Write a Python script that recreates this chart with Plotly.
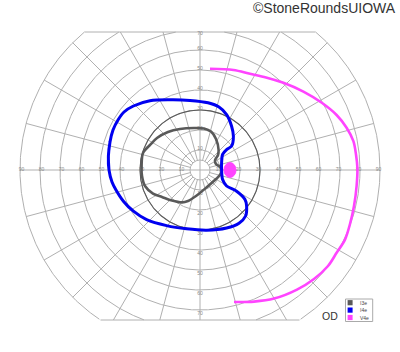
import numpy as np
import plotly.graph_objects as go

# ---------------- data (degrees of visual field) ----------------
i3e_x = [-28.5, -25, -21.5, -16, -10, -3, 2, 5.5, 8, 9.3, 9, 7.5, 8, 10, 11, 10, 8, 3.5,
         -2, -6, -9, -14, -19, -23.5, -27.5, -29, -29.2, -28.5]
i3e_y = [8.5, 12.5, 16, 19, 20.5, 21, 20.8, 19.2, 15.5, 10, 7.5, 4.8, 3, 1.5, 0, -2.5, -4.5, -8.5,
         -13, -15.5, -16.2, -15.3, -13.5, -11.8, -8, -3, 2, 8.5]

i4e_x = [-45.8, -45.5, -44, -42, -38.3, -33.3,
         -26.7, -16.7, -6.7, 3.3, 13.3, 19.5, 22.8, 23.3, 22.5, 18.3, 13.3, 11.3, 10.8, 10.8,
         11.3, 13.3, 15.8, 16.7, 15.8, 13.3, 9.5, 4, -5, -15, -25, -33.3, -38, -41, -43.5, -45,
         -45.8]
i4e_y = [7, 0, -6, -10, -15.6, -20.6,
         -24.8, -27.8, -29.4, -30.1, -29, -26.6, -23, -18, -14.8, -10.6, -8, -4.8, 0, 3.6,
         7.8, 10.2, 12, 16.9, 21.9, 27.7, 31.5, 33.6, 34.8, 35.1, 34.6, 32, 29, 25, 20, 14,
         7]

v4e_x = [5, 16.7, 25, 33, 41.7, 51.7, 60.9, 68.3, 73.3, 76.7, 78, 78.7, 78.3, 77, 75, 72.5,
         68.3, 64, 57, 48.5, 37, 27, 17]
v4e_y = [50.6, 50, 48.1, 46.3, 43.6, 39.2, 33.6, 27.5, 21.1, 14.4, 7.75, 1, -8, -18, -27, -34.8,
         -41.4, -48, -54.5, -59.8, -64.3, -65.8, -66]

blind_spot_center = (15.0, 0.0)
blind_spot_radius = (3.0, 3.7)

circle_radii = [5, 10, 20, 30, 40, 50, 60, 70, 80, 90]
meridians = list(range(0, 360, 15))
h_tick_values = [10, 20, 30, 40, 50, 60, 70, 80, 90]
v_tick_values = [10, 20, 30, 40, 50, 60, 70]

legend_names = ["I3e", "I4e", "V4e"]
colors = {"I3e": "#595959", "I4e": "#0000f0", "V4e": "#ff44ff"}

# ---------------- geometry ----------------
W, H = 400, 352
ML, MR, MT, MB = 18, 18, 31, 31
XR = [-91, 91]
YR = [-75.5, 69.5]
YTOP, YBOT = 69.0, -75.0
GRID = "#b0b0b0"


def px2paper(px, py):
    return (px - ML) / (W - ML - MR), (H - MB - py) / (H - MT - MB)


def wrap(xs, ys):
    # closed loop: continue past the start so the spline has no kink at the seam
    return [xs[-2]] + list(xs) + [xs[1]], [ys[-2]] + list(ys) + [ys[1]]


gx, gy = [], []
for r in circle_radii:
    t = np.linspace(0, 2 * np.pi, 721)
    cx, cy = r * np.cos(t), r * np.sin(t)
    inside = (cy <= YTOP) & (cy >= YBOT)
    seg_x, seg_y = [], []
    for a, b, ok in zip(cx, cy, inside):
        if ok:
            seg_x.append(a); seg_y.append(b)
        elif seg_x:
            gx += seg_x + [None]; gy += seg_y + [None]
            seg_x, seg_y = [], []
    if seg_x:
        gx += seg_x + [None]; gy += seg_y + [None]
for yc in (YTOP, YBOT):
    half = np.sqrt(90 ** 2 - yc ** 2)
    gx += [-half, half, None]; gy += [yc, yc, None]
for ang in meridians:
    th = np.radians(ang)
    s, c = np.sin(th), np.cos(th)
    r_end = 90.0
    if s > 1e-9:
        r_end = min(r_end, YTOP / s)
    elif s < -1e-9:
        r_end = min(r_end, YBOT / s)
    r0 = 0 if ang % 90 == 0 else 5
    gx += [r0 * c, r_end * c, None]; gy += [r0 * s, r_end * s, None]

fig = go.Figure()
fig.add_trace(go.Scatter(x=gx, y=gy, mode="lines", line=dict(color=GRID, width=1),
                         hoverinfo="skip", showlegend=False))
t = np.linspace(0, 2 * np.pi, 361)
fig.add_trace(go.Scatter(x=30 * np.cos(t), y=30 * np.sin(t), mode="lines",
                         line=dict(color="#5a5a5a", width=1.1), hoverinfo="skip", showlegend=False))

lab_x, lab_y, lab_t = [], [], []
for r in h_tick_values:
    for sgn in (-1, 1):
        lab_x.append(sgn * (r - 0.75)); lab_y.append(0.2); lab_t.append(str(r))
for r in v_tick_values:
    lab_x.append(0); lab_y.append(r + 0.5 if r < 70 else 67.9); lab_t.append(str(r))
    lab_x.append(0); lab_y.append(-(r + 1.75)); lab_t.append(str(r))
fig.add_trace(go.Scatter(x=lab_x, y=lab_y, text=lab_t, mode="text",
                         textfont=dict(size=5, color="#8a8a8a", family="Liberation Sans"),
                         cliponaxis=False, hoverinfo="skip", showlegend=False))

x3, y3 = wrap(i3e_x, i3e_y)
fig.add_trace(go.Scatter(x=x3, y=y3, mode="lines", name="I3e",
                         line=dict(color=colors["I3e"], width=2.6, shape="spline", smoothing=0.9),
                         showlegend=False))
x4, y4 = wrap(i4e_x, i4e_y)
fig.add_trace(go.Scatter(x=x4, y=y4, mode="lines", name="I4e",
                         line=dict(color=colors["I4e"], width=3, shape="spline", smoothing=0.9),
                         showlegend=False))
fig.add_trace(go.Scatter(x=v4e_x, y=v4e_y, mode="lines", name="V4e",
                         line=dict(color=colors["V4e"], width=2.6, shape="spline", smoothing=0.9),
                         showlegend=False))

shapes = []
cxb, cyb = blind_spot_center
rxb, ryb = blind_spot_radius
shapes.append(dict(type="circle", xref="x", yref="y", x0=cxb - rxb, x1=cxb + rxb,
                   y0=cyb - ryb, y1=cyb + ryb, fillcolor=colors["V4e"],
                   line=dict(color=colors["V4e"], width=1), layer="above"))

bx0, by0 = px2paper(345.5, 321.5)
bx1, by1 = px2paper(372.7, 299)
shapes.append(dict(type="rect", xref="paper", yref="paper", x0=bx0, y0=by0, x1=bx1, y1=by1,
                   line=dict(color="#aaaaaa", width=1), fillcolor="white"))
annotations = []
for i, name in enumerate(legend_names):
    cy_px = 302.7 + i * 7.4
    sx0, sy0 = px2paper(347.6, cy_px + 2.6)
    sx1, sy1 = px2paper(352.6, cy_px - 2.6)
    shapes.append(dict(type="rect", xref="paper", yref="paper", x0=sx0, y0=sy0, x1=sx1, y1=sy1,
                       fillcolor=colors[name], line=dict(width=0)))
    tx, ty = px2paper(358, cy_px)
    annotations.append(dict(x=tx, y=ty, xref="paper", yref="paper", text=name, showarrow=False,
                            xanchor="left", yanchor="middle",
                            font=dict(size=5, color="#444444", family="Liberation Sans")))

ox, oy = px2paper(329.5, 316)
annotations.append(dict(x=ox, y=oy, xref="paper", yref="paper", text="OD", showarrow=False,
                        xanchor="center", yanchor="middle",
                        font=dict(size=10.5, color="#333333", family="Liberation Sans")))
tx, ty = px2paper(398, 8.5)
annotations.append(dict(x=tx, y=ty, xref="paper", yref="paper", text="©StoneRoundsUIOWA",
                        showarrow=False, xanchor="right", yanchor="middle",
                        font=dict(size=14, color="#333333", family="Liberation Sans")))

fig.update_layout(
    width=W, height=H, margin=dict(l=ML, r=MR, t=MT, b=MB, pad=0),
    paper_bgcolor="white", plot_bgcolor="white",
    xaxis=dict(range=XR, visible=False, showgrid=False, zeroline=False, fixedrange=True),
    yaxis=dict(range=YR, visible=False, showgrid=False, zeroline=False, fixedrange=True),
    shapes=shapes, annotations=annotations, showlegend=False,
)
fig.write_html("out.html")
